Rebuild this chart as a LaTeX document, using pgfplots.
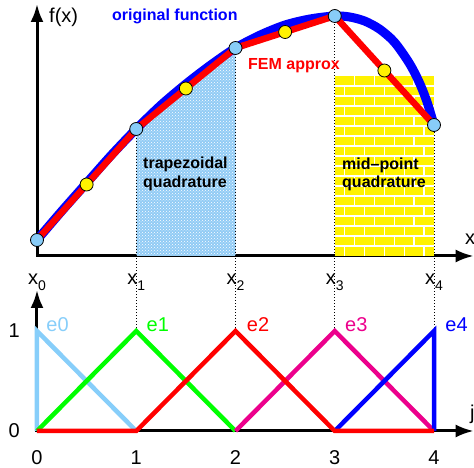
\documentclass[border=0pt]{standalone}
\usepackage{fontspec}
\setmainfont{Liberation Sans}
\usepackage{pgfplots}
\pgfplotsset{compat=1.18}
\usetikzlibrary{arrows.meta,patterns}
\definecolor{nodeblue}{RGB}{136,204,248}
\definecolor{hatchblue}{RGB}{145,203,245}
\definecolor{lightb}{RGB}{135,206,250}
\newcommand{\xs}[1]{x\raisebox{-6pt}{\fontsize{14}{14}\selectfont #1}}
\begin{document}
\begin{tikzpicture}
\path[use as bounding box] (0,0) rectangle (474pt,468pt);
\pgfplotsset{myax/.style={anchor=south west, x=99.25pt, xmin=0, xmax=4.40, ymin=0,
  axis x line=bottom, axis y line=left,
  axis line style={line width=3pt, line cap=rect, -{Latex[length=18pt,width=13pt]}},
  tick style={draw=none}, clip=false,
  tick label style={font=\fontsize{20}{24}\selectfont}},
  brickA/.style={white, line width=1.4pt, dash pattern=on 10pt off 10pt},
  brickB/.style={white, line width=1.4pt, dash pattern=on 10pt off 10pt, dash phase=10pt}}
% ---------- top panel ----------
\begin{axis}[myax, at={(37pt,212pt)}, y=100pt, ymax=2.52,
  xtick={0,1,2,3,4}, xticklabels={\xs{0},\xs{1},\xs{2},\xs{3},\xs{4}},
  ytick=\empty, xticklabel style={anchor=base, yshift=-26pt}]
\addplot[draw=none, fill=hatchblue, postaction={pattern=crosshatch dots, pattern color=white}]
  coordinates {(1,1.27) (2,2.08)} \closedcycle;
% mid-point rectangle (yellow) with white brick joints
\addplot[draw=none, fill=yellow] coordinates {(3,1.80) (4,1.80)} \closedcycle;
\addplot[white, line width=1.4pt] coordinates {
 (2.995,1.7)(4.005,1.7)(4.005,1.6)(2.995,1.6)(2.995,1.5)(4.005,1.5)(4.005,1.4)(2.995,1.4)
 (2.995,1.3)(4.005,1.3)(4.005,1.2)(2.995,1.2)(2.995,1.1)(4.005,1.1)(4.005,1.0)(2.995,1.0)
 (2.995,0.9)(4.005,0.9)(4.005,0.8)(2.995,0.8)(2.995,0.7)(4.005,0.7)(4.005,0.6)(2.995,0.6)
 (2.995,0.5)(4.005,0.5)(4.005,0.4)(2.995,0.4)(2.995,0.3)(4.005,0.3)(4.005,0.2)(2.995,0.2)
 (2.995,0.1)(4.005,0.1)};
\addplot[brickA] coordinates {(3.2,1.8) (3.2,0)};
\addplot[brickA] coordinates {(3.4,1.8) (3.4,0)};
\addplot[brickA] coordinates {(3.6,1.8) (3.6,0)};
\addplot[brickA] coordinates {(3.8,1.8) (3.8,0)};
\addplot[brickB] coordinates {(3.1,1.8) (3.1,0)};
\addplot[brickB] coordinates {(3.3,1.8) (3.3,0)};
\addplot[brickB] coordinates {(3.5,1.8) (3.5,0)};
\addplot[brickB] coordinates {(3.7,1.8) (3.7,0)};
\addplot[brickB] coordinates {(3.9,1.8) (3.9,0)};
\addplot[blue, line width=9pt, smooth, line join=round] coordinates {
 (0,0.16) (0.25,0.45) (0.5,0.73) (0.75,1.01) (1,1.27) (1.25,1.51) (1.5,1.72)
 (1.75,1.91) (2,2.08) (2.25,2.21) (2.5,2.31) (2.75,2.37) (3,2.40) (3.15,2.39)
 (3.3,2.35) (3.45,2.27) (3.6,2.14) (3.75,1.93) (3.85,1.74) (3.93,1.54) (4,1.31)};
\addplot[red, line width=6.5pt, line join=round] coordinates {
 (0,0.16) (1,1.27) (2,2.08) (3,2.40) (4,1.31)};
\addplot[only marks, mark=*, mark size=6.5pt, mark options={fill=yellow, draw=black, line width=0.8pt}]
 coordinates {(0.5,0.715) (1.5,1.675) (2.5,2.24) (3.5,1.855)};
\addplot[only marks, mark=*, mark size=6.5pt, mark options={fill=nodeblue, draw=black, line width=0.8pt}]
 coordinates {(0,0.16) (1,1.27) (2,2.08) (3,2.40) (4,1.31)};
\end{axis}
% ---------- bottom panel ----------
\begin{axis}[myax, at={(37pt,37pt)}, y=100pt, ymax=1.41,
  xtick={0,1,2,3,4}, xticklabels={0,1,2,3,4}, ytick={0,1}, yticklabels={0,1},
  xticklabel style={anchor=base, yshift=-31pt},
  yticklabel style={anchor=east, inner sep=0pt, xshift=-15pt}]
\addplot[black, line width=1pt, dash pattern=on 1pt off 2pt] coordinates {(1,1) (1,2.955)};
\addplot[black, line width=1pt, dash pattern=on 1pt off 2pt] coordinates {(2,1) (2,3.765)};
\addplot[black, line width=1pt, dash pattern=on 1pt off 2pt] coordinates {(3,1) (3,4.085)};
\addplot[black, line width=1pt, dash pattern=on 1pt off 2pt] coordinates {(4,1) (4,2.995)};
\addplot[lightb, line width=4.5pt] coordinates {(0,0) (0,1) (1,0)};
\addplot[green, line width=4.5pt] coordinates {(0,0) (1,1) (2,0)};
\addplot[magenta, line width=4.5pt] coordinates {(2,0) (3,1) (4,0)};
\addplot[blue, line width=4.5pt] coordinates {(3,0) (4,1) (4,0)};
\addplot[red, line width=4.5pt] coordinates {(0,0) (1,0) (2,1) (3,0) (4,0)};
\node[anchor=base west, text=lightb, font=\fontsize{20}{24}\selectfont] at (axis cs:0.06,0.99) {e0};
\node[anchor=base west, text=green, font=\fontsize{20}{24}\selectfont] at (axis cs:1.07,0.99) {e1};
\node[anchor=base west, text=red, font=\fontsize{20}{24}\selectfont] at (axis cs:2.08,0.99) {e2};
\node[anchor=base west, text=magenta, font=\fontsize{20}{24}\selectfont] at (axis cs:3.07,0.99) {e3};
\node[anchor=base west, text=blue, font=\fontsize{20}{24}\selectfont] at (axis cs:4.08,0.99) {e4};
\end{axis}
% ---------- texts ----------
\node[anchor=base west, inner sep=0pt, font=\fontsize{20}{24}\selectfont] at (49pt,445pt) {f(x)};
\node[anchor=base west, inner sep=0pt, text=blue, font=\fontsize{16}{19}\selectfont\bfseries] at (112pt,447pt) {original function};
\node[anchor=base west, inner sep=0pt, text=red, font=\fontsize{16}{19}\selectfont\bfseries] at (248pt,398pt) {FEM approx};
\node[anchor=base west, inner sep=0pt, font=\fontsize{16}{19}\selectfont\bfseries] at (143pt,299pt) {trapezoidal};
\node[anchor=base west, inner sep=0pt, font=\fontsize{16}{19}\selectfont\bfseries] at (143pt,280pt) {quadrature};
\node[anchor=base west, inner sep=0pt, font=\fontsize{16}{19}\selectfont\bfseries] at (342pt,298pt) {mid–point};
\node[anchor=base west, inner sep=0pt, font=\fontsize{16}{19}\selectfont\bfseries] at (342pt,280pt) {quadrature};
\node[anchor=base west, inner sep=0pt, font=\fontsize{20}{24}\selectfont] at (465pt,223pt) {x};
\node[anchor=base west, inner sep=0pt, font=\fontsize{20}{24}\selectfont] at (470pt,48pt) {j};
\end{tikzpicture}
\end{document}
